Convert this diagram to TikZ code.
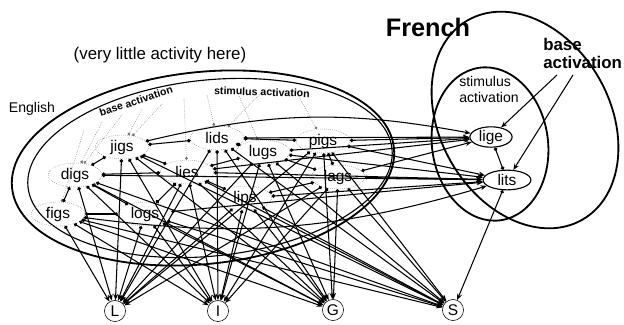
\documentclass[tikz,border=0pt]{standalone}
\usepackage{fontspec}
\setmainfont{Liberation Sans}
\usetikzlibrary{arrows.meta,shapes.geometric}

\begin{document}
\begin{tikzpicture}[x=0.025cm, y=-0.025cm,
    eword/.style={ellipse, draw=black!50, densely dotted, minimum width=38pt, minimum height=17pt, inner sep=0pt, font=\fontsize{11}{11}\selectfont},
    fword/.style={ellipse, draw, thick, minimum width=30pt, minimum height=14pt, inner sep=0pt, font=\fontsize{11}{11}\selectfont},
    letter/.style={circle, draw, minimum size=15pt, inner sep=0pt, font=\fontsize{11}{11}\selectfont},
    link/.style={{Circle[length=2.5pt]}-{Stealth[length=4.5pt,width=3.5pt]}, line width=0.75pt},
    inhib/.style={{Circle[length=2.5pt]}-{Circle[length=2.5pt]}, line width=0.75pt},
    base/.style={densely dotted, black!55, -{Circle[length=2pt]}},
    ring/.style={line width=1.3pt}]
    \useasboundingbox (0,0) rectangle (624,324);

    % language pools
    \draw[ring, rotate around={6:(203,168)}] (203,168) ellipse [x radius=192, y radius=96];
    \draw[thick, rotate around={6:(210,168)}] (210,168) ellipse [x radius=183, y radius=88];
    \draw[ring, rotate around={30:(525,120)}] (525,120) ellipse [x radius=85, y radius=115];
    \draw[ring, rotate around={8:(490,144)}] (490,144) ellipse [x radius=58, y radius=77];

    % words
    \node[eword] (jigs) at (122,147) {jigs};
    \node[eword] (lids) at (217,138) {lids};
    \node[eword] (lugs) at (263,152) {lugs};
    \node[eword] (pigs) at (323,141) {pigs};
    \node[eword] (digs) at (75,175) {digs};
    \node[eword] (lies) at (187,172) {lies};
    \node[eword] (lags) at (338,177) {lags};
    \node[eword] (lips) at (245,198) {lips};
    \node[eword] (figs) at (58,214) {figs};
    \node[eword] (logs) at (145,214) {logs};
    \node[fword] (lige) at (491,137) {lige};
    \node[fword, minimum width=34pt] (lits) at (507,180) {lits};

    % letters
    \node[letter] (L) at (115,311) {L};
    \node[letter] (I) at (218,311) {I};
    \node[letter] (G) at (333,310) {G};
    \node[letter] (S) at (453,310) {S};

    % labels
    \node[font=\fontsize{12}{12}\selectfont] (quiet) at (160,55) {(very little activity here)};
    \node[font=\fontsize{10}{10}\selectfont] (eng) at (32,109) {English};
    \node[font=\fontsize{7.5}{8}\selectfont\bfseries, rotate=18] (ebase) at (136,101) {base activation};
    \node[font=\fontsize{7.5}{8}\selectfont\bfseries, rotate=-2] (estim) at (262,92) {stimulus activation};
    \node[font=\fontsize{18}{18}\selectfont\bfseries] (fr) at (428,27) {French};
    \node[font=\fontsize{12}{13}\selectfont\bfseries, align=left, anchor=north west, inner sep=0pt] (fbase) at (543,38) {base\\activation};
    \node[font=\fontsize{10}{11.5}\selectfont, align=left, anchor=north west, inner sep=0pt] (fstim) at (459,76) {stimulus\\activation};

    % base activation (dotted)
    \coordinate (b1) at (84,130);
    \coordinate (b2) at (102,122);
    \coordinate (b3) at (122,115);
    \coordinate (b4) at (142,109);
    \coordinate (b5) at (162,104);
    \coordinate (b6) at (184,99);
    \coordinate (b7) at (207,95);
    \coordinate (b8) at (237,91);
    \coordinate (b9) at (265,89);
    \coordinate (b10) at (295,89);
    \draw[base] (b1) -- (figs);
    \draw[base] (b2) -- (digs);
    \draw[base] (b3) -- (digs);
    \draw[base] (b4) -- (jigs);
    \draw[base] (b5) -- (jigs);
    \draw[base] (b6) -- (lies);
    \draw[base] (b7) -- (lids);
    \draw[base] (b8) -- (lugs);
    \draw[base] (b9) -- (lids);
    \draw[base] (b10) -- (pigs);
    \coordinate (ba1) at (557,75);
    \coordinate (ba2) at (573,75);
    \draw[line width=0.75pt, -{Stealth[length=4.5pt,width=3.5pt]}] (ba1) -- (lige);
    \draw[line width=0.75pt, -{Stealth[length=4.5pt,width=3.5pt]}] (ba2) -- (lits);

    % inhibition inside English
    \foreach \a/\b in {jigs/lids, lids/pigs, digs/lies, figs/logs, lies/lugs, lugs/lags, lips/lags,
        jigs/digs, digs/figs, logs/lies, lies/lips, pigs/lags, lids/lugs, jigs/lies, digs/logs}
        \draw[inhib] (\a) -- (\b);
    \draw[inhib] (lige) -- (lits);

    % words to letters
    \foreach \w in {jigs,lids,lugs,pigs,digs,lies,lags,lips,figs,logs}
        \foreach \l in {L,I,G,S}
            \draw[link] (\w) -- (\l);

    % English to French
    \foreach \w in {lids,lugs,pigs,lies,lags}
        \draw[link] (\w) -- (lige);
    \foreach \w in {lugs,pigs,lies,lags,lips,logs,digs}
        \draw[link] (\w) -- (lits);
    \draw[link] (jigs) to[bend left=12] (lige);
    \draw[link] (figs) to[bend right=12] (lits);
    \draw[link] (lits) -- (S);
\end{tikzpicture}
\end{document}
